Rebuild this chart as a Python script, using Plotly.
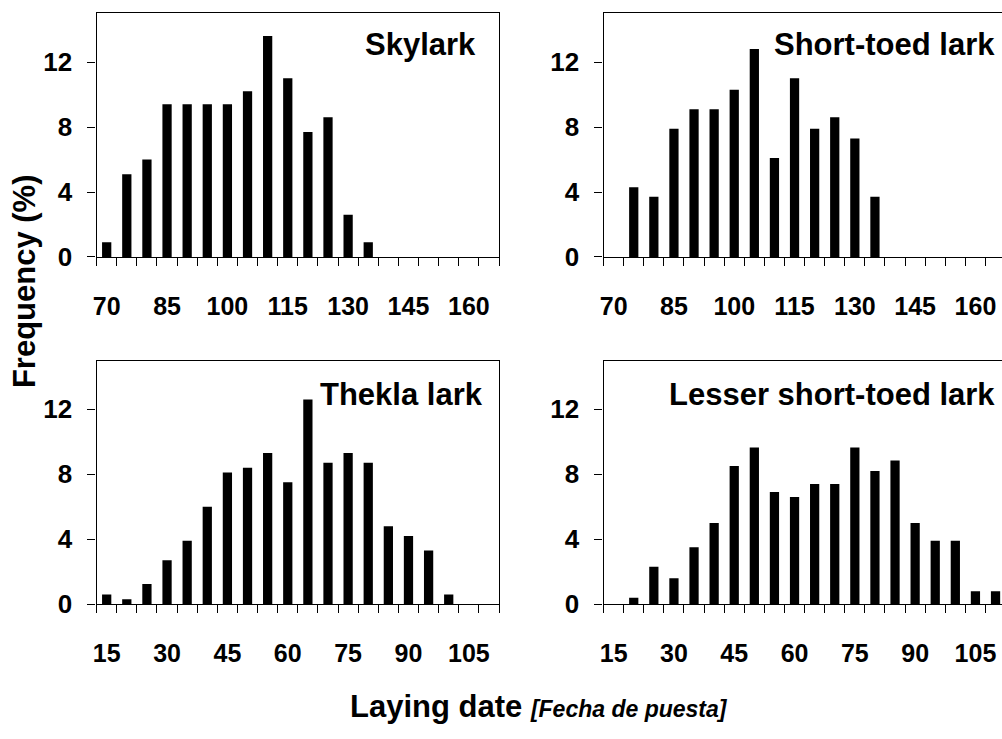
import plotly.graph_objects as go

# ---- data ----
days_top = [70, 75, 80, 85, 90, 95, 100, 105, 110, 115, 120, 125, 130, 135, 140, 145, 150, 155, 160, 165]
days_bottom = [15, 20, 25, 30, 35, 40, 45, 50, 55, 60, 65, 70, 75, 80, 85, 90, 95, 100, 105, 110]

skylark = [0.9, 5.1, 6.0, 9.4, 9.4, 9.4, 9.4, 10.2, 13.6, 11.0, 7.7, 8.6, 2.6, 0.9, 0, 0, 0, 0, 0, 0]
short_toed = [0, 4.3, 3.7, 7.9, 9.1, 9.1, 10.3, 12.8, 6.1, 11.0, 7.9, 8.6, 7.3, 3.7, 0, 0, 0, 0, 0, 0]
thekla = [0.6, 0.3, 1.25, 2.7, 3.9, 6.0, 8.1, 8.4, 9.3, 7.5, 12.6, 8.7, 9.3, 8.7, 4.8, 4.2, 3.3, 0.6, 0, 0]
lesser = [0, 0.4, 2.3, 1.6, 3.5, 5.0, 8.5, 9.65, 6.9, 6.6, 7.4, 7.4, 9.65, 8.2, 8.85, 5.0, 3.9, 3.9, 0.8, 0.8]

top_labels = [70, 85, 100, 115, 130, 145, 160]
bottom_labels = [15, 30, 45, 60, 75, 90, 105]
y_ticks = [0, 4, 8, 12]

titles = ["Skylark", "Short-toed lark", "Thekla lark", "Lesser short-toed lark"]

# ---- layout geometry ----
W, H = 1002, 739
left_dom = [93 / W, 497 / W]
right_dom = [602 / W, 1.0]
top_dom = [(H - 262.3) / H, (H - 13.6) / H]
bot_dom = [(H - 616.7) / H, (H - 368) / H]

panels = [
    dict(days=days_top, vals=skylark, xd=left_dom, yd=top_dom, labels=top_labels, right=False, tx=0.948, ty=0.872),
    dict(days=days_top, vals=short_toed, xd=right_dom, yd=top_dom, labels=top_labels, right=True, tx=0.988, ty=0.872),
    dict(days=days_bottom, vals=thekla, xd=left_dom, yd=bot_dom, labels=bottom_labels, right=False, tx=0.965, ty=0.862),
    dict(days=days_bottom, vals=lesser, xd=right_dom, yd=bot_dom, labels=bottom_labels, right=True, tx=0.988, ty=0.862),
]

FONT = "Liberation Sans, Arial, sans-serif"

fig = go.Figure()
annotations = []
for i, p in enumerate(panels):
    n = "" if i == 0 else str(i + 1)
    m = str(i + 5)  # overlay axis carrying the tick labels
    xa, ya, xl = "x" + n, "y" + n, "x" + m
    fig.add_trace(go.Bar(x=p["days"], y=p["vals"], xaxis=xa, yaxis=ya,
                         marker=dict(color="black", line=dict(width=0)), showlegend=False))
    # empty companion trace so the label axis is drawn
    fig.add_trace(go.Scatter(x=[], y=[], xaxis=xl, yaxis=ya, showlegend=False, hoverinfo="skip"))
    step = p["days"][1] - p["days"][0]
    lo = p["days"][0] - step / 2
    if p["right"]:
        hi = lo + step * 400 / 20.18
    else:
        hi = p["days"][-1] + step / 2
    # axis with tick marks at the boundaries between day classes
    fig.layout["xaxis" + n] = dict(
        domain=p["xd"], anchor=ya, range=[lo, hi],
        tickmode="linear", tick0=lo, dtick=step,
        ticks="outside", ticklen=8, tickwidth=1.3, tickcolor="black",
        showticklabels=False,
        showline=True, linecolor="black", linewidth=1.3, mirror=True,
        showgrid=False, zeroline=False,
    )
    # overlay axis with the labels centred on the labelled classes
    fig.layout["xaxis" + m] = dict(
        domain=p["xd"], anchor=ya, overlaying=xa, side="bottom", range=[lo, hi],
        tickmode="array", tickvals=p["labels"], ticktext=[str(v) for v in p["labels"]],
        ticks="", showline=False, showgrid=False, zeroline=False,
        tickfont=dict(family=FONT, size=25, color="black", weight="bold"),
        ticklabelstandoff=32,
    )
    fig.layout["yaxis" + n] = dict(
        domain=p["yd"], anchor=xa, range=[0, 15],
        tickvals=y_ticks, ticks="outside", ticklen=8, tickwidth=1.3, tickcolor="black",
        showline=True, linecolor="black", linewidth=1.3, mirror=not p["right"],
        showgrid=False, zeroline=False,
        tickfont=dict(family=FONT, size=26, color="black", weight="bold"),
        ticklabelstandoff=10,
    )
    annotations.append(dict(text="<b>" + titles[i] + "</b>", xref=xa + " domain", yref=ya + " domain",
                            x=p["tx"], y=p["ty"], xanchor="right", yanchor="middle", showarrow=False,
                            font=dict(family=FONT, size=31, color="black")))

annotations.append(dict(text="<b>Frequency (%)</b>", xref="paper", yref="paper",
                        x=20 / W, y=(H - 287) / H, xanchor="center", yanchor="middle",
                        textangle=-90, showarrow=False,
                        font=dict(family=FONT, size=31, color="black")))
annotations.append(dict(text="<b>Laying date</b> <b><i><span style='font-size:23px'>[Fecha de puesta]</span></i></b>",
                        xref="paper", yref="paper", x=537.5 / W, y=(H - 721) / H,
                        xanchor="center", yanchor="middle", showarrow=False,
                        font=dict(family=FONT, size=31, color="black")))

fig.update_layout(width=W, height=H, margin=dict(l=0, r=0, t=0, b=0),
                  paper_bgcolor="white", plot_bgcolor="white", bargap=0.54,
                  annotations=annotations)

fig.write_html("out.html")
